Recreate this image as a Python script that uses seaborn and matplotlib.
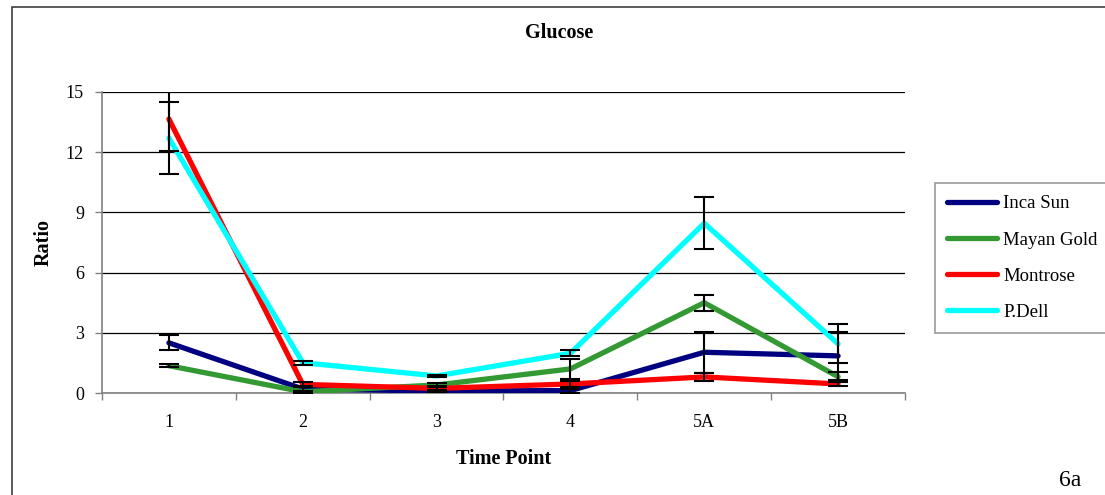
import matplotlib
matplotlib.use("Agg")
import matplotlib.pyplot as plt
import seaborn as sns
import pandas as pd
import numpy as np
from matplotlib.patches import Rectangle

time_points = ["1", "2", "3", "4", "5A", "5B"]
series_names = ["Inca Sun", "Mayan Gold", "Montrose", "P.Dell"]
inca_sun = [2.5, 0.2, 0.1, 0.12, 2.03, 1.85]
inca_sun_err = [0.38, 0.1, 0.05, 0.1, 1.02, 1.2]
mayan_gold = [1.36, 0.06, 0.4, 1.2, 4.5, 0.81]
mayan_gold_err = [0.07, 0.05, 0.1, 0.5, 0.4, 0.25]
montrose = [13.65, 0.43, 0.23, 0.45, 0.8, 0.45]
montrose_err = [1.58, 0.1, 0.1, 0.15, 0.2, 0.1]
p_dell = [12.7, 1.51, 0.85, 1.98, 8.46, 2.45]
p_dell_err = [1.8, 0.1, 0.05, 0.15, 1.3, 0.97]
y_ticks = [0, 3, 6, 9, 12, 15]
colors = ["#000080", "#339933", "#FF0000", "#00FFFF"]

values = [inca_sun, mayan_gold, montrose, p_dell]
errors = [inca_sun_err, mayan_gold_err, montrose_err, p_dell_err]

rows = []
for name, vals, errs in zip(series_names, values, errors):
    for i, (tp, v, e) in enumerate(zip(time_points, vals, errs)):
        rows.append({"series": name, "time": tp, "pos": i + 0.5, "value": v, "err": e})
df = pd.DataFrame(rows)

sns.set_theme(style="white")
plt.rcParams["font.family"] = ["Liberation Serif", "DejaVu Serif"]
plt.rcParams["text.color"] = "black"
plt.rcParams["axes.labelcolor"] = "black"

fig = plt.figure(figsize=(11.05, 4.95), dpi=100)
ax = fig.add_axes([102 / 1105, 1 - 393 / 495, (905 - 102) / 1105, (393 - 92) / 495])

sns.lineplot(data=df, x="pos", y="value", hue="series", hue_order=series_names,
             palette=colors, linewidth=3.8, ax=ax, sort=False, estimator=None,
             legend=True, zorder=3)

for name in series_names:
    sub = df[df["series"] == name]
    ax.errorbar(sub["pos"], sub["value"], yerr=sub["err"], fmt="none",
                ecolor="black", elinewidth=1.5, capsize=7, capthick=1.5, zorder=5)

ax.set_xlim(0, len(time_points))
ax.set_ylim(0, 15)
ax.set_yticks(y_ticks)
ax.set_yticklabels([str(t) for t in y_ticks], fontsize=13)
ax.set_xticks([i + 0.5 for i in range(len(time_points))])
ax.set_xticklabels(time_points, fontsize=13)
ax.set_xticks(range(len(time_points) + 1), minor=True)
ax.tick_params(axis="x", which="major", length=0, pad=15, labelcolor="black")
ax.tick_params(axis="x", which="minor", length=5, color="#808080", width=1, direction="out", bottom=True)
ax.tick_params(axis="y", length=5, color="#808080", width=1, direction="out", left=True, pad=8,
               labelcolor="black")

ax.yaxis.grid(True, color="black", linewidth=0.9)
ax.set_axisbelow(True)
for s in ["top", "right"]:
    ax.spines[s].set_visible(False)
for s in ["left", "bottom"]:
    ax.spines[s].set_color("#808080")
    ax.spines[s].set_linewidth(1.2)

ax.set_xlabel("Time Point", fontsize=14.5, fontweight="bold", labelpad=13, color="black")
ax.set_ylabel("Ratio", fontsize=14.5, fontweight="bold", labelpad=9, color="black")
fig.text(559 / 1105, 1 - 33 / 495, "Glucose", ha="center", va="center",
         fontsize=14.5, fontweight="bold", color="black")

handles, labels = ax.get_legend_handles_labels()
for h in handles:
    h.set_linewidth(3.8)
leg = ax.legend(handles, labels, loc="upper left",
                bbox_to_anchor=(935 / 1105, 1 - 183 / 495), bbox_transform=fig.transFigure,
                frameon=True, fancybox=False, edgecolor="#808080", fontsize=13.5,
                handlelength=2.65, handletextpad=0.35, labelspacing=1.02,
                borderpad=0.65, borderaxespad=0)
leg.get_frame().set_linewidth(1.2)
for t in leg.get_texts():
    t.set_color("black")

fig.patches.append(Rectangle((12 / 1105, -0.05), 1.2, 1.05 - 7 / 495,
                             transform=fig.transFigure, fill=False,
                             edgecolor="#404040", linewidth=1.2))

fig.text(1070 / 1105, 1 - 480 / 495, "6a", ha="center", va="center", fontsize=17, color="black")

fig.savefig("out.png", dpi=100)
